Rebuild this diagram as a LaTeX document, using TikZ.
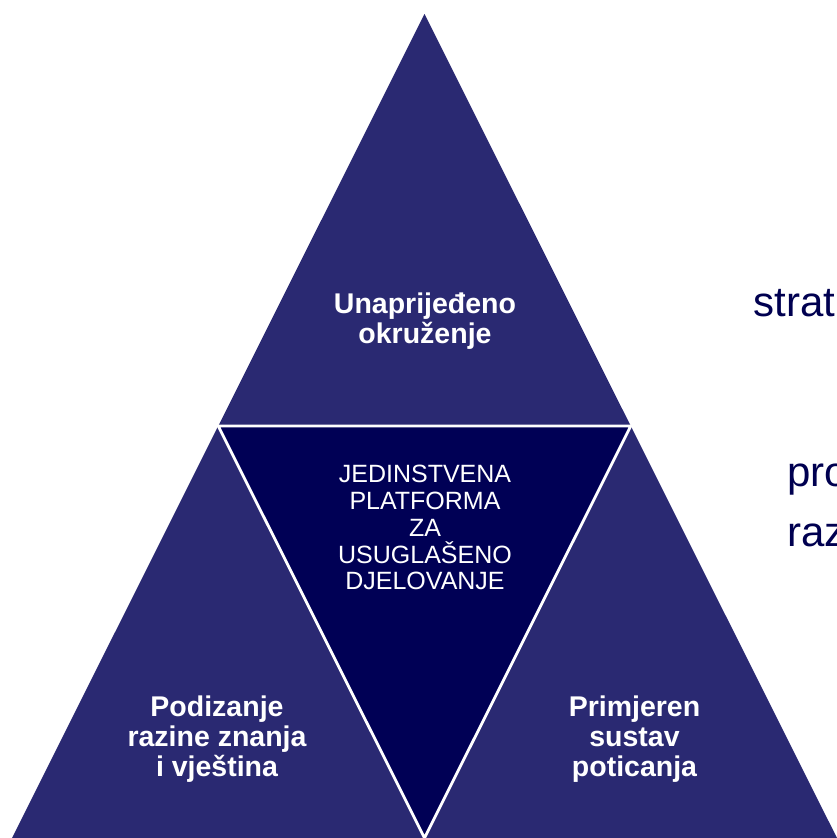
\documentclass[tikz,border=0pt]{standalone}
\usepackage{fontspec}
\setmainfont{Liberation Sans}
\definecolor{outerblue}{RGB}{42,41,114}
\definecolor{innerblue}{RGB}{0,0,85}
\definecolor{navytext}{RGB}{0,0,80}
\tikzset{
  boldlabel/.style={text=white, inner sep=0pt, align=center,
    font=\fontsize{28.5}{30}\selectfont\bfseries},
  centerlabel/.style={text=white, inner sep=0pt, align=center,
    font=\fontsize{25}{26.75}\selectfont},
  sidetext/.style={text=navytext, inner sep=0pt, anchor=base west,
    font=\fontsize{42}{48}\selectfont},
  whitegap/.style={draw=white, line width=2.8pt, line join=miter}
}
\begin{document}
\begin{tikzpicture}[x=1pt,y=1pt]
\useasboundingbox (0,0) rectangle (837,838);
\clip (0,0) rectangle (837,838);
% corners
\coordinate (A) at (424.5,824);
\coordinate (B) at (12,0);
\coordinate (C) at (837,0);
\coordinate (AB) at (218.25,412);
\coordinate (AC) at (630.75,412);
\coordinate (BC) at (424.5,0);
% big triangle
\fill[outerblue] (A) -- (B) -- (C) -- cycle;
% inner inverted triangle
\fill[innerblue] (AB) -- (AC) -- (BC) -- cycle;
\draw[whitegap] (AB) -- (AC) -- (BC) -- cycle;
% labels
\node[boldlabel] (top) at (425,517) {Unaprijeđeno\\okruženje};
\node[boldlabel] (left) at (217,98.5) {Podizanje\\razine znanja\\i vještina};
\node[boldlabel] (right) at (634.5,98.5) {Primjeren\\sustav\\poticanja};
\node[centerlabel] (mid) at (425,310.2) {JEDINSTVENA\\PLATFORMA\\ZA\\USUGLAŠENO\\DJELOVANJE};
% side text, cut off by the frame as in the reference
\node[sidetext] (s1) at (753.7,521.5) {strat};
\node[sidetext] (s2) at (787,351) {pro};
\node[sidetext] (s3) at (787,291.5) {raz};
\end{tikzpicture}
\end{document}
